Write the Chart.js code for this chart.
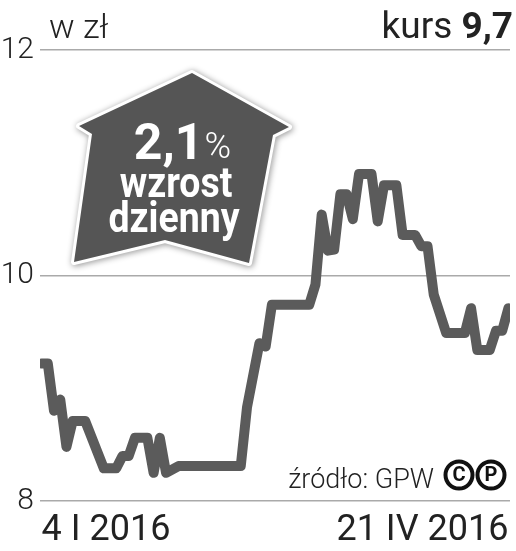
<!DOCTYPE html>
<html>
<head>
<meta charset="utf-8">
<script src="https://cdn.jsdelivr.net/npm/chart.js@4/dist/chart.umd.min.js"></script>
<style>
  html, body { margin: 0; padding: 0; background: #fff; }
  #wrap { width: 516px; height: 551px; }
</style>
</head>
<body>
<div id="wrap"><canvas id="chart" width="516" height="551"></canvas></div>
<script>
// trading day index (0 = 4 I 2016, 75 = 21 IV 2016) and close price
const days = [0, 1, 2, 3, 4, 5, 7, 10, 12, 13, 14, 15, 17, 18, 19, 20, 22, 32, 33, 35, 36, 37, 43, 44, 45, 46, 47, 48, 49, 50, 51, 53, 54, 55, 57, 58, 60, 61, 62, 63, 65, 68, 69, 70, 72, 73, 74, 75];
const prices = [9.22, 9.22, 8.80, 8.90, 8.48, 8.71, 8.71, 8.29, 8.29, 8.40, 8.40, 8.56, 8.56, 8.25, 8.56, 8.25, 8.31, 8.31, 8.83, 9.40, 9.37, 9.74, 9.74, 9.92, 10.54, 10.22, 10.23, 10.72, 10.72, 10.50, 10.90, 10.90, 10.48, 10.80, 10.80, 10.36, 10.36, 10.26, 10.26, 9.83, 9.49, 9.49, 9.71, 9.34, 9.34, 9.51, 9.51, 9.71];
const yTicks = [8, 10, 12];
const dateLabels = ["4 I 2016", "21 IV 2016"];

const FONT = "Roboto, 'Liberation Sans', Arial, sans-serif";

// Texts and the arrow badge drawn on top of the chart
const decor = {
  id: "decor",
  afterDatasetsDraw(chart) {
    const ctx = chart.ctx;
    ctx.save();

    // header
    ctx.fillStyle = "#222";
    ctx.textBaseline = "alphabetic";
    ctx.textAlign = "left";
    ctx.font = "300 34px " + FONT;
    ctx.fillText("w zł", 49, 38);

    ctx.textAlign = "right";
    ctx.font = "bold 37px " + FONT;
    const val = "9,7";
    ctx.fillText(val, 513, 38);
    const w = ctx.measureText(val).width;
    ctx.font = "400 37px " + FONT;
    ctx.fillText("kurs ", 513 - w, 38);

    // source
    ctx.font = "300 27px " + FONT;
    ctx.fillText("źródło: GPW", 434, 488);

    // (c) and (p) marks
    ctx.lineWidth = 4;
    ctx.strokeStyle = "#111";
    ctx.fillStyle = "#111";
    ctx.textAlign = "center";
    ctx.textBaseline = "middle";
    ctx.font = "bold 20px " + FONT;
    [[459, "C"], [491, "P"]].forEach(([cx, t]) => {
      ctx.beginPath();
      ctx.arc(cx, 475, 13.5, 0, Math.PI * 2);
      ctx.stroke();
      ctx.fillText(t, cx, 476);
    });

    // badge
    const pts = [[192, 73], [289, 127], [273, 135], [249, 263], [165, 240], [74, 262], [92, 134], [79, 126]];
    const path = () => {
      ctx.beginPath();
      pts.forEach(([x, y], i) => (i ? ctx.lineTo(x, y) : ctx.moveTo(x, y)));
      ctx.closePath();
    };
    ctx.save();
    ctx.shadowColor = "rgba(0,0,0,0.45)";
    ctx.shadowBlur = 6;
    ctx.shadowOffsetX = 1;
    ctx.shadowOffsetY = 1;
    path();
    ctx.lineJoin = "round";
    ctx.lineWidth = 6;
    ctx.strokeStyle = "#fff";
    ctx.stroke();
    ctx.restore();
    path();
    ctx.fillStyle = "#555";
    ctx.fill();

    // badge text
    ctx.fillStyle = "#fff";
    ctx.textBaseline = "alphabetic";
    ctx.textAlign = "left";
    ctx.font = "bold 50px " + FONT;
    const big = "2,1";
    const bw = ctx.measureText(big).width;
    ctx.font = "300 36px " + FONT;
    const pw = ctx.measureText("%").width;
    const sx = 182 - (bw + pw) / 2;
    ctx.font = "bold 50px " + FONT;
    ctx.fillText(big, sx, 159);
    ctx.font = "300 36px " + FONT;
    ctx.fillText("%", sx + bw + 1, 158);

    ctx.textAlign = "center";
    ctx.font = "bold 43px " + FONT;
    [["wzrost", 176, 197], ["dzienny", 174, 232]].forEach(([t, x, y]) => {
      ctx.save();
      ctx.translate(x, y);
      ctx.scale(0.87, 1);
      ctx.fillText(t, 0, 0);
      ctx.restore();
    });

    ctx.restore();
  }
};

new Chart(document.getElementById("chart"), {
  type: "line",
  data: {
    datasets: [{
      data: days.map((d, i) => ({ x: d, y: prices[i] })),
      borderColor: "#5b5b5b",
      borderWidth: 10,
      borderJoinStyle: "round",
      borderCapStyle: "round",
      tension: 0,
      pointRadius: 0,
      fill: false
    }]
  },
  options: {
    responsive: false,
    animation: false,
    events: [],
    layout: { padding: { top: 50, right: 6, bottom: 3, left: 0 } },
    plugins: { legend: { display: false }, tooltip: { enabled: false } },
    scales: {
      x: {
        type: "linear",
        min: -0.25,
        max: 75.25,
        afterBuildTicks: (s) => { s.ticks = [{ value: 0 }, { value: 75 }]; },
        afterFit: (s) => { s.height = 47; },
        grid: { display: false },
        border: { display: false },
        ticks: {
          align: "inner",
          maxRotation: 0,
          padding: 0,
          color: "#222",
          font: { family: FONT, size: 36, weight: "400" },
          callback: (v) => (v === 0 ? dateLabels[0] : dateLabels[1])
        }
      },
      y: {
        min: 8,
        max: 12,
        afterBuildTicks: (s) => { s.ticks = yTicks.map((v) => ({ value: v })); },
        afterFit: (s) => { s.width = 40; },
        grid: { color: "#aaa", lineWidth: 1.5, drawTicks: false },
        border: { display: false },
        ticks: {
          padding: 6,
          color: "#222",
          font: { family: FONT, size: 30, weight: "300" }
        }
      }
    }
  },
  plugins: [decor]
});
</script>
</body>
</html>
